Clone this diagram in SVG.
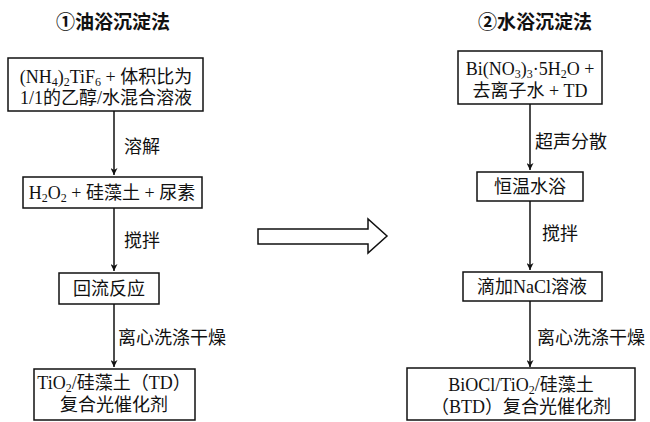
<svg xmlns="http://www.w3.org/2000/svg" width="650" height="422" viewBox="0 0 650 422">
<defs>
<marker id="ah" viewBox="0 0 10 10" refX="10" refY="5" markerWidth="7" markerHeight="7" markerUnits="userSpaceOnUse" orient="auto">
<path d="M0,0 L10,5 L0,10 L3,5 Z" fill="#111"/>
</marker>
<style>
text{font-family:"Liberation Serif","Noto Sans CJK SC",serif;font-size:18px;fill:#111;text-anchor:middle}
.t{font-size:19px;font-weight:bold}
.l{text-anchor:start}
.s{font-size:12px}
rect{fill:#fff;stroke:#111;stroke-width:1.5}
.c line{stroke:#111;stroke-width:1.5;marker-end:url(#ah)}
</style>
</defs>
<rect x="0" y="0" width="650" height="422" style="stroke:none"/>
<text class="t" x="113" y="29">①油浴沉淀法</text>
<text class="t" x="535" y="29">②水浴沉淀法</text>

<g class="c">
<line x1="114" y1="111" x2="114" y2="175"/>
<line x1="114" y1="208" x2="114" y2="271"/>
<line x1="114" y1="304" x2="114" y2="367"/>
<line x1="530" y1="104" x2="530" y2="170"/>
<line x1="530" y1="201" x2="530" y2="270"/>
<line x1="530" y1="301" x2="530" y2="367"/>
</g>
<g id="labels">
<text class="l" x="124" y="153">溶解</text>
<text class="l" x="124" y="247">搅拌</text>
<text class="l" x="118" y="344">离心洗涤干燥</text>
<text class="l" x="535" y="148">超声分散</text>
<text class="l" x="542" y="240">搅拌</text>
<text class="l" x="537" y="344">离心洗涤干燥</text>
</g>

<g id="n1">
<rect x="8" y="58" width="195" height="53"/>
<text x="106" y="83">(NH<tspan class="s" dy="3">4</tspan><tspan dy="-3">)</tspan><tspan class="s" dy="3">2</tspan><tspan dy="-3">TiF</tspan><tspan class="s" dy="3">6</tspan><tspan dy="-3"> + 体积比为</tspan></text>
<text x="106" y="104">1/1的乙醇/水混合溶液</text>
</g>
<g id="n2">
<rect x="23" y="177" width="179" height="31"/>
<text x="112" y="199">H<tspan class="s" dy="3">2</tspan><tspan dy="-3">O</tspan><tspan class="s" dy="3">2</tspan><tspan dy="-3"> + 硅藻土 + 尿素</tspan></text>
</g>
<g id="n3">
<rect x="59" y="273" width="100" height="31"/>
<text x="109" y="295">回流反应</text>
</g>
<g id="n4">
<rect x="34" y="369" width="161" height="51"/>
<text x="114" y="389">TiO<tspan class="s" dy="3">2</tspan><tspan dy="-3">/硅藻土（TD）</tspan></text>
<text x="114" y="411">复合光催化剂</text>
</g>

<g id="m1">
<rect x="458" y="51" width="144" height="53"/>
<text x="530" y="75">Bi(NO<tspan class="s" dy="3">3</tspan><tspan dy="-3">)</tspan><tspan class="s" dy="3">3</tspan><tspan dy="-3">·5H</tspan><tspan class="s" dy="3">2</tspan><tspan dy="-3">O +</tspan></text>
<text x="530" y="97">去离子水 + TD</text>
</g>
<g id="m2">
<rect x="477" y="172" width="106" height="29"/>
<text x="530" y="193">恒温水浴</text>
</g>
<g id="m3">
<rect x="463" y="272" width="139" height="29"/>
<text x="532" y="293">滴加NaCl溶液</text>
</g>
<g id="m4">
<rect x="407" y="368" width="228" height="52"/>
<text x="521" y="391">BiOCl/TiO<tspan class="s" dy="3">2</tspan><tspan dy="-3">/硅藻土</tspan></text>
<text x="521" y="413">（BTD）复合光催化剂</text>
</g>

<g id="bigarrow">
<path d="M258,229 L368,229 L368,219 L387,236 L368,253 L368,244 L258,244 Z" fill="#fff" stroke="#111" stroke-width="1.5"/>
</g>
</svg>
